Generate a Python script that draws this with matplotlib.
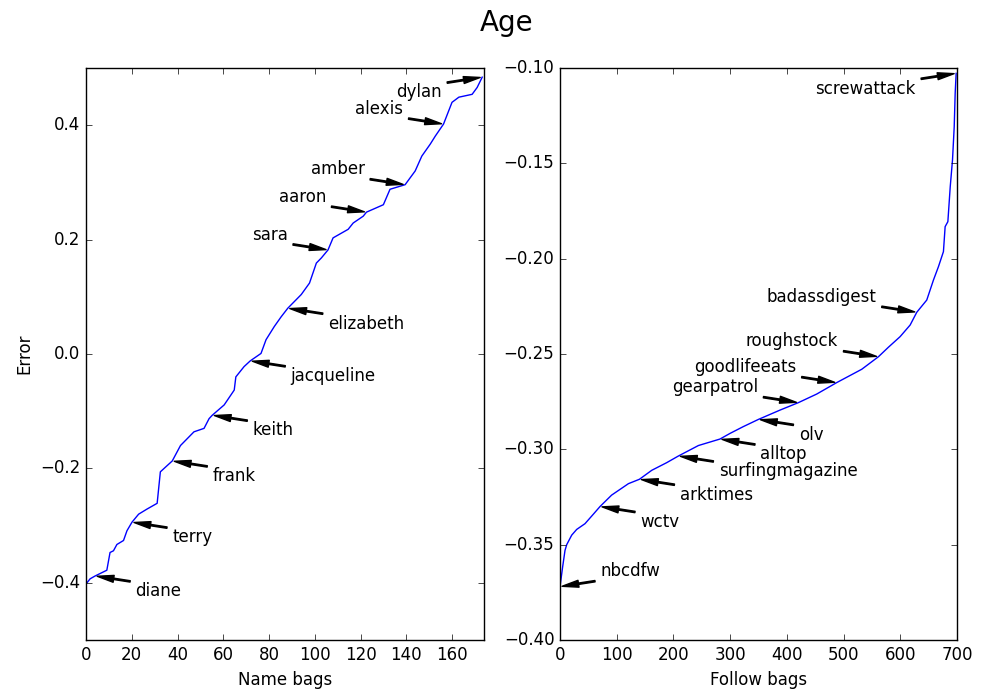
import numpy as np
import matplotlib
matplotlib.use("Agg")
from matplotlib import pyplot as plt

# curva de la izquierda (name bags)
name_x = [0, 1.8, 4, 9.1, 10.5, 12, 13.5, 16.4, 17.9, 20.1, 23, 26.7, 31.1,
          32.5, 35.5, 37.7, 41.3, 47.2, 51.6, 53.8, 55.2, 60.4, 64.8, 65.5,
          69.1, 71.8, 76.5, 78.7, 82.3, 85.3, 88.2, 94.1, 97.7, 100.7, 102.9,
          105.8, 108, 114.6, 116.8, 121.2, 122.6, 130, 132.9, 139.5, 143.9,
          146.8, 150.5, 152.7, 156.3, 160, 163, 168.8, 171, 173.2]
name_err = [-0.402, -0.393, -0.388, -0.378, -0.347, -0.344, -0.333, -0.326,
            -0.309, -0.294, -0.280, -0.271, -0.261, -0.206, -0.195, -0.187,
            -0.160, -0.136, -0.130, -0.113, -0.107, -0.089, -0.063, -0.040,
            -0.022, -0.012, 0.001, 0.025, 0.048, 0.065, 0.080, 0.104, 0.124,
            0.159, 0.168, 0.182, 0.203, 0.218, 0.229, 0.241, 0.248, 0.261,
            0.288, 0.296, 0.320, 0.346, 0.367, 0.381, 0.402, 0.440, 0.449,
            0.454, 0.466, 0.484]

# etiquetas de la izquierda
name_labels = ["diane", "terry", "frank", "keith", "jacqueline", "elizabeth",
               "sara", "aaron", "amber", "alexis", "dylan"]
name_label_x = [4, 20.1, 37.7, 55.2, 71.8, 88.2, 105.8, 122.6, 139.5, 156.3,
                173.2]

# curva de la derecha (follow bags)
follow_x = [0, 4.7, 8.8, 11.8, 20.6, 29.4, 44, 58.8, 70.5, 91, 120.6, 140,
            161.7, 188, 208.7, 244, 282, 300, 323, 349.8, 388, 420.3, 452.6,
            487.8, 532, 561.5, 578.8, 599.6, 617.3, 629, 646.6, 658.4, 667.2,
            676, 679, 683.8, 688, 692, 695, 696.7, 698.4]
follow_err = [-0.372, -0.3615, -0.353, -0.350, -0.345, -0.342, -0.339, -0.334,
              -0.330, -0.324, -0.318, -0.3157, -0.311, -0.307, -0.3035,
              -0.298, -0.2946, -0.2916, -0.2881, -0.2843, -0.2794, -0.2755,
              -0.271, -0.265, -0.258, -0.2514, -0.2465, -0.2409, -0.2348,
              -0.2281, -0.2217, -0.2112, -0.2042, -0.1963, -0.1832, -0.1806,
              -0.1622, -0.1482, -0.1308, -0.1133, -0.1028]

# etiquetas de la derecha
follow_labels = ["nbcdfw", "wctv", "arktimes", "surfingmagazine", "alltop",
                 "olv", "gearpatrol", "goodlifeeats", "roughstock",
                 "badassdigest", "screwattack"]
follow_label_x = [0, 70.5, 140, 208.7, 282, 349.8, 420.3, 487.8, 561.5, 629,
                  698.4]

# desplazamiento del texto (puntos): abajo-derecha, arriba-izquierda, etc.
name_offsets = [(29, -11)] * 6 + [(-29, 11)] * 4 + [(-29, -11)]
follow_offsets = [(29, 11)] + [(29, -11)] * 5 + [(-29, 11)] * 4 + [(-29, -11)]

plt.style.use("classic")
plt.rcParams["figure.facecolor"] = "white"
plt.rcParams["savefig.facecolor"] = "white"

fig = plt.figure(figsize=(9.83, 6.89), dpi=100)

ax1 = fig.add_axes([0.0875, 0.0711, 0.4049, 0.8302])
ax2 = fig.add_axes([0.5697, 0.0711, 0.4039, 0.8302])

arrow = dict(facecolor="black", edgecolor="black", width=1, headwidth=5,
             headlength=12, shrink=0.05)


def dibujar(ax, xs, ys, labels, lab_x, offsets):
    ax.plot(xs, ys, color="b", linewidth=1)
    for lab, lx, off in zip(labels, lab_x, offsets):
        ly = np.interp(lx, xs, ys)
        ax.annotate(lab, xy=(lx, ly), xytext=off, textcoords="offset points",
                    ha="left" if off[0] > 0 else "right", va="center",
                    fontsize=12, arrowprops=arrow)


dibujar(ax1, name_x, name_err, name_labels, name_label_x, name_offsets)
dibujar(ax2, follow_x, follow_err, follow_labels, follow_label_x,
        follow_offsets)

ax1.set_xlim(0, 174)
ax1.set_ylim(-0.5, 0.5)
ax1.set_xticks(np.arange(0, 161, 20))
ax1.set_yticks([-0.4, -0.2, 0.0, 0.2, 0.4])
ax1.set_xlabel("Name bags")
ax1.set_ylabel("Error")

ax2.set_xlim(0, 700)
ax2.set_ylim(-0.4, -0.1)
ax2.set_xticks(np.arange(0, 701, 100))
ax2.set_yticks([-0.40, -0.35, -0.30, -0.25, -0.20, -0.15, -0.10])
ax2.set_xlabel("Follow bags")

fig.text(0.515, 1 - 23 / 689, "Age", ha="center", va="center", fontsize=20)

plt.savefig("out.png", dpi=100)
